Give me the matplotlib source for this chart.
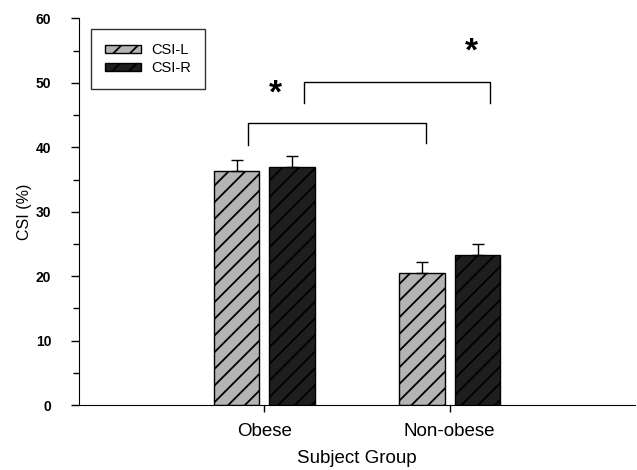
import matplotlib.pyplot as plt
import numpy as np
from matplotlib.ticker import MultipleLocator

plt.rcParams["font.family"] = ["Liberation Sans", "DejaVu Sans"]
plt.rcParams["hatch.linewidth"] = 1.3

groups = ["Obese", "Non-obese"]
series = ["CSI-L", "CSI-R"]
csi_l = [36.3, 20.5]
csi_r = [36.9, 23.3]
err_l = [1.8, 1.7]
err_r = [1.7, 1.7]

# significance brackets: (x_left, x_right, y_top, y_left_end, y_right_end)
brackets = [
    (0.912, 1.873, 43.7, 40.3, 40.6),
    (1.214, 2.218, 50.2, 46.8, 46.8),
]
stars = [(1.058, 48.3), (2.115, 54.8)]

fig = plt.figure(figsize=(6.37, 4.7), dpi=100)
ax = fig.add_axes([0.124, 0.138, 0.873, 0.823])

x = np.arange(1, len(groups) + 1)
w = 0.245
off = 0.15

ax.bar(x - off, csi_l, w, color="#b4b4b4", edgecolor="black", hatch="//",
       linewidth=1.0, label=series[0], zorder=2)
ax.bar(x + off, csi_r, w, color="#1e1e1e", edgecolor="black", hatch="//",
       linewidth=1.0, label=series[1], zorder=2)
ax.errorbar(x - off, csi_l, yerr=[np.zeros(len(err_l)), err_l], fmt="none",
            ecolor="black", elinewidth=1.0, capsize=4, capthick=1.0, zorder=3)
ax.errorbar(x + off, csi_r, yerr=[np.zeros(len(err_r)), err_r], fmt="none",
            ecolor="black", elinewidth=1.0, capsize=4, capthick=1.0, zorder=3)

for xl, xr, yt, yl, yr in brackets:
    ax.plot([xl, xl, xr, xr], [yl, yt, yt, yr], color="black", lw=1.0)
for sx, sy in stars:
    ax.text(sx, sy, "*", ha="center", va="center", fontsize=24, fontweight="bold")

ax.set_xlim(0, 3)
ax.set_ylim(0, 60)
ax.set_xticks(x)
ax.set_xticklabels(groups, fontsize=13.5)
ax.yaxis.set_major_locator(MultipleLocator(10))
ax.yaxis.set_minor_locator(MultipleLocator(5))
for lab in ax.get_yticklabels():
    lab.set_fontweight("bold")
    lab.set_fontsize(10)
ax.tick_params(axis="y", which="major", direction="out", length=6, width=1, pad=14)
ax.tick_params(axis="y", which="minor", direction="out", length=4, width=1)
ax.tick_params(axis="x", direction="out", length=5, width=1, pad=8)

ax.spines["top"].set_visible(False)
ax.spines["right"].set_visible(False)

ax.set_xlabel("Subject Group", fontsize=13.5, labelpad=7)
ax.set_ylabel("CSI (%)", fontsize=11.5, labelpad=3)

leg = ax.legend(loc="upper left", bbox_to_anchor=(0.0216, 0.9716),
                borderaxespad=0, fontsize=10.5, frameon=True, fancybox=False,
                edgecolor="black", handlelength=2.5, handleheight=0.45,
                handletextpad=0.7, borderpad=0.95, labelspacing=0.25)
leg.get_frame().set_linewidth(1.0)

fig.savefig("out.png", dpi=100)
